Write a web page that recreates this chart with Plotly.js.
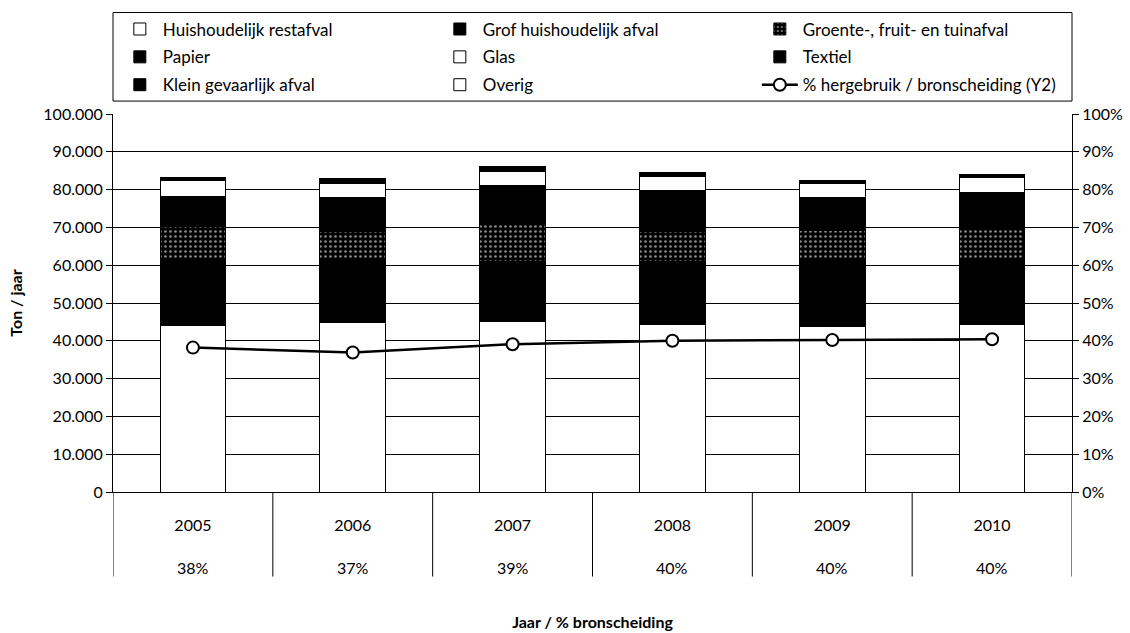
<!DOCTYPE html>
<html>
<head>
<meta charset="utf-8">
<script src="https://cdn.plot.ly/plotly-3.0.1.min.js"></script>
<style>html,body{margin:0;padding:0;background:#fff;}#chart{width:1130px;height:633px;}</style>
</head>
<body>
<div id="chart"></div>
<script>
// ---- data (ton / jaar) ----
const years = ['2005', '2006', '2007', '2008', '2009', '2010'];
const restafval = [44100, 44800, 45100, 44200, 43900, 44400];
const grofAfval = [17600, 16400, 16000, 16900, 17700, 17000];
const gft       = [8600, 7800, 9700, 7800, 7600, 8000];
const papier    = [8000, 8900, 10300, 10800, 8700, 9900];
const glas      = [4200, 3800, 3800, 3700, 3800, 3900];
const textiel   = [450, 900, 800, 800, 600, 600];
const kga       = [200, 300, 200, 200, 150, 150];
const overig    = [50, 100, 100, 100, 50, 50];
const pctHergebruik = [0.382, 0.369, 0.391, 0.400, 0.402, 0.404];

const seriesNames = ['Huishoudelijk restafval', 'Grof huishoudelijk afval', 'Groente-, fruit- en tuinafval',
  'Papier', 'Glas', 'Textiel', 'Klein gevaarlijk afval', 'Overig'];
const lineName = '% hergebruik / bronscheiding (Y2)';
const yTitle = 'Ton / jaar';
const xTitle = 'Jaar / % bronscheiding';

const FONT = 'Lato, "Open Sans", sans-serif';
const seriesValues = [restafval, grofAfval, gft, papier, glas, textiel, kga, overig];
const fills = ['#ffffff', '#000000', 'pattern', '#000000', '#ffffff', '#000000', '#000000', '#ffffff'];
const legendIds = ['legend', 'legend', 'legend', 'legend2', 'legend2', 'legend2', 'legend3', 'legend3'];

const traces = seriesValues.map((vals, i) => {
  const marker = {color: fills[i] === 'pattern' ? '#000000' : fills[i], line: {color: '#000', width: 1}};
  if (fills[i] === 'pattern') {
    marker.pattern = {shape: '.', bgcolor: '#000000', fgcolor: '#8a8a8a', size: 5, solidity: 0.22, fillmode: 'replace'};
  }
  return {type: 'bar', name: seriesNames[i], x: years, y: vals, marker: marker, legend: legendIds[i], yaxis: 'y'};
});
traces.push({
  type: 'scatter', mode: 'lines+markers', name: lineName, x: years, y: pctHergebruik, yaxis: 'y2',
  legend: 'legend3',
  line: {color: '#000', width: 2.5},
  marker: {symbol: 'circle', size: 12, color: '#fff', line: {color: '#000', width: 2}}
});

const H = 380; // plot height px, for paper fractions
const shapes = [];
for (let k = 0; k <= years.length; k++) {
  shapes.push({type: 'line', xref: 'x', yref: 'paper', x0: k - 0.5, x1: k - 0.5, y0: 0, y1: -85 / H,
    line: {color: '#000', width: 1}});
}
// legend frame
shapes.push({type: 'rect', xref: 'paper', yref: 'paper', x0: 0, x1: 1, y0: (492 - 99) / H, y1: (492 - 10) / H,
  line: {color: '#000', width: 1}, fillcolor: 'rgba(0,0,0,0)', layer: 'below'});

const annotations = years.map((yr, i) => ({
  xref: 'x', yref: 'paper', x: i, y: -(568 - 492) / H, yanchor: 'middle', showarrow: false,
  text: Math.round(pctHergebruik[i] * 100) + '%', font: {family: FONT, size: 16, color: '#000'}
}));

const legendBase = {orientation: 'h', xanchor: 'left', yanchor: 'middle', x: 0.004, bgcolor: 'rgba(0,0,0,0)',
  borderwidth: 0, entrywidth: 269, font: {family: FONT, size: 17, color: '#000'}, traceorder: 'normal',
  itemwidth: 36};

const layout = {
  width: 1130, height: 633,
  margin: {l: 113, r: 58, t: 112, b: 141},
  paper_bgcolor: '#fff', plot_bgcolor: '#fff',
  separators: ',.',
  barmode: 'stack', bargap: 0.59,
  font: {family: FONT, size: 16, color: '#000'},
  showlegend: true,
  legend: Object.assign({}, legendBase, {y: (492 - 27) / H}),
  legend2: Object.assign({}, legendBase, {y: (492 - 55) / H}),
  legend3: Object.assign({}, legendBase, {y: (492 - 83) / H}),
  xaxis: {type: 'category', range: [-0.5, years.length - 0.5], autorange: false,
    showline: true, linecolor: '#000', linewidth: 1, ticks: '', showgrid: false,
    ticklabelstandoff: 19, tickfont: {family: FONT, size: 16},
    title: {text: xTitle, font: {family: FONT, size: 16, color: '#000', weight: 'bold'}, standoff: 83}},
  yaxis: {range: [0, 100000], dtick: 10000, tickformat: ',', showline: true, linecolor: '#000', linewidth: 1,
    ticks: 'outside', ticklen: 6, tickcolor: '#000', showgrid: true, gridcolor: '#000', gridwidth: 1,
    zeroline: false, tickfont: {family: FONT, size: 16},
    title: {text: yTitle, font: {family: FONT, size: 16, color: '#000', weight: 'bold'}, standoff: 16}},
  yaxis2: {range: [0, 1], dtick: 0.1, tickformat: '.0%', overlaying: 'y', side: 'right', showline: true,
    linecolor: '#000', linewidth: 1, ticks: 'outside', ticklen: 6, tickcolor: '#000', showgrid: false,
    zeroline: false, tickfont: {family: FONT, size: 16}},
  shapes: shapes,
  annotations: annotations
};

Plotly.newPlot('chart', traces, layout, {staticPlot: true, displayModeBar: false});
</script>
</body>
</html>
